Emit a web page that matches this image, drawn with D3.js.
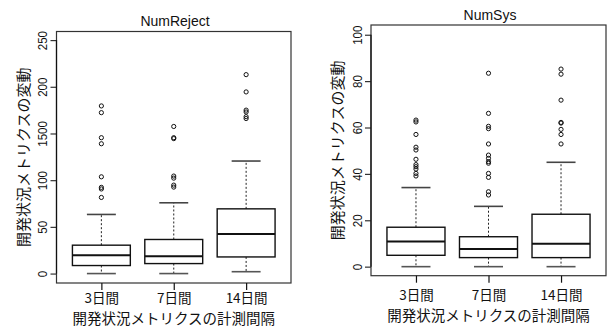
<!DOCTYPE html>
<html>
<head>
<meta charset="utf-8">
<script src="https://cdn.jsdelivr.net/npm/d3@7"></script>
<style>
  body { margin: 0; background: #fff; }
  svg text { font-family: "Liberation Sans", Arial, "Noto Sans CJK JP", sans-serif; fill: #111; }
  .jp { font-family: "Noto Sans CJK JP", sans-serif; }
</style>
</head>
<body>
<div id="chart"></div>
<script>
// categories (measurement interval)
const categories = ["3日間", "7日間", "14日間"];

// NumReject box stats
const rejectLower = [0, 0, 2];
const rejectQ1 = [8.6, 10.7, 17.8];
const rejectMedian = [19.6, 18.6, 42.5];
const rejectQ3 = [30.4, 36.5, 69.3];
const rejectUpper = [63.3, 75.8, 120.5];
const rejectOutliers = [
    [81.5, 90.6, 92.3, 103.6, 139, 145.5, 172.3, 179.5],
    [92.6, 94.7, 102.2, 104.4, 144.5, 145.5, 157.5],
    [166, 168, 173, 175, 194.5, 213]
];
const rejectTicks = [0, 50, 100, 150, 200, 250];
const rejectTickLabels = ["0", "50", "100", "1500", "200", "250"];

// NumSys box stats
const sysLower = [0, 0, 0];
const sysQ1 = [4.9, 3.9, 3.9];
const sysMedian = [10.9, 7.6, 9.9];
const sysQ3 = [17.0, 12.9, 22.6];
const sysUpper = [34.1, 26, 45];
const sysOutliers = [
    [39.1, 40.2, 42.1, 43.1, 44, 46.3, 50.3, 51.5, 57, 62.4, 63.2],
    [30.9, 32.3, 38.5, 40.2, 44.6, 45.3, 46.7, 48.1, 52.9, 59.5, 60.5, 66.1, 83.4],
    [52.9, 57, 59.2, 61.9, 62.2, 71.8, 83, 85.2]
];
const sysTicks = [0, 20, 40, 60, 80, 100];
const sysTickLabels = ["0", "20", "40", "60", "80", "100"];

const yTitle = "開発状況メトリクスの変動";
const xTitle = "開発状況メトリクスの計測間隔";

var svg = d3.select('#chart')
    .append('svg')
    .attr('width', 610)
    .attr('height', 327)

function drawPanel(p) {
    const x = d3.scaleLinear()
        .domain([0.38, 3.62])
        .range([p.left, p.right])
    const y = d3.scaleLinear()
        .domain(p.yDomain)
        .range([p.bottom, p.top])

    const g = svg.append('g')
    const boxW = (x(1.4) - x(1));   // half of 0.8 box
    const capW = boxW / 2;

    const rows = categories.map(function (c, i) {
        return {
            pos: i + 1, lo: p.lower[i], q1: p.q1[i], med: p.median[i],
            q3: p.q3[i], hi: p.upper[i], out: p.outliers[i]
        };
    });

    const grp = g.selectAll('g.box')
        .data(rows)
        .enter()
        .append('g')
        .attr('class', 'box')

    // whiskers
    grp.append('line')
        .attr('x1', d => x(d.pos)).attr('x2', d => x(d.pos))
        .attr('y1', d => y(d.q3)).attr('y2', d => y(d.hi))
        .attr('stroke', '#222').attr('stroke-width', 1)
        .attr('stroke-dasharray', '2,2')
    grp.append('line')
        .attr('x1', d => x(d.pos)).attr('x2', d => x(d.pos))
        .attr('y1', d => y(d.q1)).attr('y2', d => y(d.lo))
        .attr('stroke', '#222').attr('stroke-width', 1)
        .attr('stroke-dasharray', '2,2')
    // caps
    grp.append('line')
        .attr('x1', d => x(d.pos) - capW).attr('x2', d => x(d.pos) + capW)
        .attr('y1', d => y(d.hi)).attr('y2', d => y(d.hi))
        .attr('stroke', '#444').attr('stroke-width', 1.6)
    grp.append('line')
        .attr('x1', d => x(d.pos) - capW).attr('x2', d => x(d.pos) + capW)
        .attr('y1', d => y(d.lo)).attr('y2', d => y(d.lo))
        .attr('stroke', '#555').attr('stroke-width', 1.6)
    // box
    grp.append('rect')
        .attr('x', d => x(d.pos) - boxW)
        .attr('width', boxW * 2)
        .attr('y', d => y(d.q3))
        .attr('height', d => y(d.q1) - y(d.q3))
        .attr('fill', 'none').attr('stroke', '#111').attr('stroke-width', 1.4)
    // median
    grp.append('line')
        .attr('x1', d => x(d.pos) - boxW).attr('x2', d => x(d.pos) + boxW)
        .attr('y1', d => y(d.med)).attr('y2', d => y(d.med))
        .attr('stroke', '#111').attr('stroke-width', 2)
    // outliers
    grp.selectAll('circle')
        .data(d => d.out.map(v => ({ pos: d.pos, v: v })))
        .enter()
        .append('circle')
        .attr('cx', d => x(d.pos))
        .attr('cy', d => y(d.v))
        .attr('r', 2.1)
        .attr('fill', 'none').attr('stroke', '#111').attr('stroke-width', 1)

    // frame
    g.append('rect')
        .attr('x', p.left).attr('y', p.top)
        .attr('width', p.right - p.left).attr('height', p.bottom - p.top)
        .attr('fill', 'none').attr('stroke', '#333').attr('stroke-width', 1.2)

    // y axis
    const yAxis = g.append('g')
        .attr('transform', 'translate(' + p.left + ',0)')
        .call(d3.axisLeft(y).tickValues(p.ticks)
            .tickFormat((d, i) => p.tickLabels[i])
            .tickSize(6).tickSizeOuter(0))
    yAxis.select('.domain').remove()
    yAxis.selectAll('.tick line').attr('stroke', '#333').attr('stroke-width', 1.2)
    yAxis.selectAll('.tick text')
        .attr('x', null).attr('dy', null)
        .attr('text-anchor', 'middle')
        .attr('dominant-baseline', 'central')
        .attr('font-size', 13.5)
        .attr('transform', 'translate(' + (p.tickLabelX - p.left) + ',0) rotate(-90) scale(0.85,1)')
    yAxis.append('line')
        .attr('x1', 0).attr('x2', 0)
        .attr('y1', y(p.ticks[0])).attr('y2', y(p.ticks[p.ticks.length - 1]))
        .attr('stroke', '#111').attr('stroke-width', 1.2)

    // x axis
    const xAxis = g.append('g')
        .attr('transform', 'translate(0,' + p.bottom + ')')
        .call(d3.axisBottom(x).tickValues([1, 2, 3])
            .tickFormat((d, i) => categories[i])
            .tickSize(7).tickSizeOuter(0))
    xAxis.select('.domain').remove()
    xAxis.selectAll('.tick line').attr('stroke', '#111').attr('stroke-width', 1.2)
    xAxis.selectAll('.tick text')
        .attr('class', 'jp')
        .attr('y', p.xLabelY - p.bottom).attr('dy', null)
        .attr('dominant-baseline', 'central')
        .attr('font-size', 13.5)

    // titles
    g.append('text')
        .attr('x', p.titleX).attr('y', p.titleY)
        .attr('text-anchor', 'middle')
        .attr('dominant-baseline', 'central')
        .attr('font-size', 14)
        .text(p.title)
    g.append('text')
        .attr('class', 'jp')
        .attr('transform', 'translate(' + p.yTitleX + ',' + ((p.top + p.bottom) / 2) + ') rotate(-90)')
        .attr('text-anchor', 'middle')
        .attr('dominant-baseline', 'central')
        .attr('font-size', 15)
        .text(yTitle)
    g.append('text')
        .attr('class', 'jp')
        .attr('x', (p.left + p.right) / 2).attr('y', p.xTitleY)
        .attr('text-anchor', 'middle')
        .attr('dominant-baseline', 'central')
        .attr('font-size', 14.5)
        .text(xTitle)
}

drawPanel({
    title: "NumReject",
    left: 56.5, right: 291, top: 31.5, bottom: 283,
    yDomain: [-10.1, 259.2],
    lower: rejectLower, q1: rejectQ1, median: rejectMedian, q3: rejectQ3,
    upper: rejectUpper, outliers: rejectOutliers,
    ticks: rejectTicks, tickLabels: rejectTickLabels,
    tickLabelX: 43, yTitleX: 22.5, xLabelY: 297, xTitleY: 317,
    titleX: 175, titleY: 20.5
})

drawPanel({
    title: "NumSys",
    left: 371, right: 606, top: 25, bottom: 275.7,
    yDomain: [-3.9, 104.2],
    lower: sysLower, q1: sysQ1, median: sysMedian, q3: sysQ3,
    upper: sysUpper, outliers: sysOutliers,
    ticks: sysTicks, tickLabels: sysTickLabels,
    tickLabelX: 357.5, yTitleX: 336.5, xLabelY: 294, xTitleY: 314,
    titleX: 490, titleY: 15
})
</script>
</body>
</html>
